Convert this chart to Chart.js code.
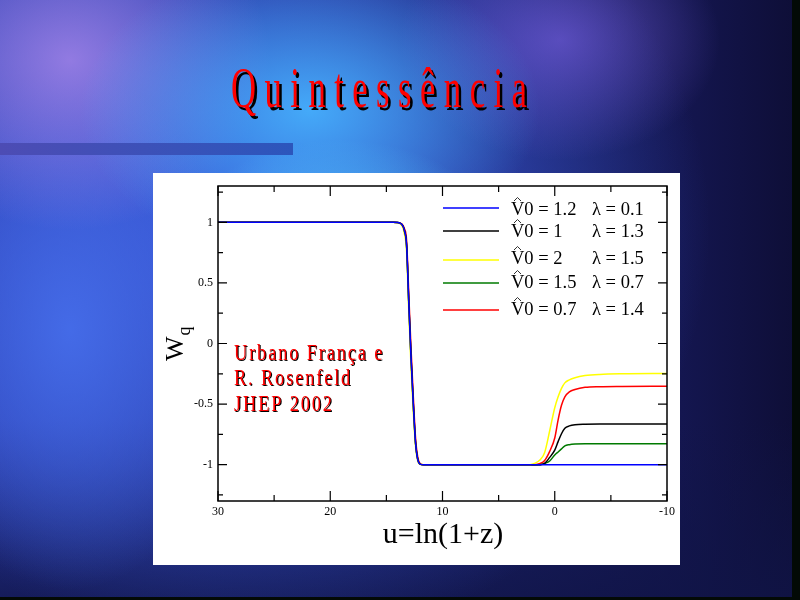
<!DOCTYPE html>
<html>
<head>
<meta charset="utf-8">
<script src="https://cdn.jsdelivr.net/npm/chart.js@4/dist/chart.umd.min.js"></script>
<style>
  html, body { margin: 0; padding: 0; }
  body {
    width: 800px; height: 600px; overflow: hidden;
    background:
      radial-gradient(ellipse 150px 90px at 340px 230px, rgba(80,200,255,0.85), rgba(80,200,255,0) 100%),
      radial-gradient(ellipse 230px 150px at 310px 110px, rgba(70,180,255,0.9), rgba(70,180,255,0) 100%),
      radial-gradient(ellipse 200px 170px at 70px 60px, rgba(170,135,235,0.8), rgba(170,135,235,0) 100%),
      radial-gradient(ellipse 160px 120px at 560px 40px, rgba(120,95,225,0.65), rgba(120,95,225,0) 100%),
      radial-gradient(ellipse 170px 260px at 70px 330px, rgba(70,110,235,0.9), rgba(70,110,235,0) 100%),
      radial-gradient(ellipse 460px 420px at 250px 230px, #3c5ee0, rgba(60,94,224,0) 100%),
      linear-gradient(to bottom, rgba(0,0,0,0) 70%, rgba(16,20,70,0.8) 100%),
      linear-gradient(to right, #2a3aa8 0%, #1c2470 60%, #141650 85%, #0e0e36 100%);
  }
  canvas { display: block; }
</style>
</head>
<body>
<canvas id="chart" width="800" height="600"></canvas>
<script>
// x: u = ln(1+z), shared by all curves
const uValues = [30, 20, 15, 14.4, 14.0, 13.8, 13.6, 13.4, 13.2, 13.0, 12.8, 12.6, 12.4, 12.2, 12.0, 11.7, 8, 4,
                 2.2, 1.8, 1.3, 0.9, 0.45, 0, -0.3, -0.6, -0.9, -1.3, -1.8, -2.7, -4, -6, -10];

// w_q for each curve
const wBlue   = [1, 1, 1, 1, 0.998, 0.993, 0.98, 0.935, 0.81, 0.33, -0.12, -0.5, -0.82, -0.96, -0.995, -1, -1, -1,
                 -1, -1, -1, -1, -1, -1, -1, -1, -1, -1, -1, -1, -1, -1, -1];
const wBlack  = [1, 1, 1, 1, 0.998, 0.993, 0.98, 0.935, 0.81, 0.33, -0.12, -0.5, -0.82, -0.96, -0.995, -1, -1, -1,
                 -1, -1, -1, -0.99, -0.94, -0.88, -0.81, -0.745, -0.70, -0.68, -0.67, -0.666, -0.665, -0.665, -0.665];
const wYellow = [1, 1, 1, 1, 0.997, 0.99, 0.97, 0.91, 0.76, 0.26, -0.2, -0.56, -0.85, -0.97, -0.997, -1, -1, -1,
                 -1, -0.99, -0.96, -0.90, -0.72, -0.53, -0.44, -0.37, -0.325, -0.30, -0.282, -0.265, -0.255, -0.25, -0.248];
const wGreen  = [1, 1, 1, 1, 0.998, 0.993, 0.98, 0.93, 0.8, 0.31, -0.14, -0.52, -0.83, -0.96, -0.995, -1, -1, -1,
                 -1, -1, -1, -0.99, -0.97, -0.92, -0.895, -0.87, -0.845, -0.835, -0.83, -0.828, -0.828, -0.828, -0.828];
const wRed    = [1, 1, 1, 1, 0.999, 0.995, 0.985, 0.95, 0.85, 0.4, -0.05, -0.44, -0.78, -0.94, -0.99, -1, -1, -1,
                 -1, -1, -0.99, -0.965, -0.89, -0.78, -0.63, -0.51, -0.44, -0.40, -0.38, -0.362, -0.356, -0.354, -0.353];

const seriesColors = ['#0000ff', '#000000', '#ffff00', '#007a00', '#ff0000'];
const legendV      = ['1.2', '1', '2', '1.5', '0.7'];
const legendLambda = ['0.1', '1.3', '1.5', '0.7', '1.4'];

const xMajor = [30, 20, 10, 0, -10];
const xMinor = [25, 15, 5, -5];
const yMajor = [-1, -0.5, 0, 0.5, 1];
const yMinor = [-1.25, -0.75, -0.25, 0.25, 0.75, 1.25];

const authors = ['Urbano França e', 'R. Rosenfeld', 'JHEP 2002'];

const SERIF = '"Liberation Serif", "Times New Roman", serif';
Chart.defaults.font.family = SERIF;

function pts(ws) {
  return uValues.map((u, i) => ({ x: u, y: ws[i] }));
}

const allSeries = [wBlue, wBlack, wYellow, wGreen, wRed];

// draws the slide: white panel, title and bar
const slidePlugin = {
  id: 'slide',
  beforeDraw(chart) {
    const ctx = chart.ctx;
    ctx.save();
    // bar
    const g = ctx.createLinearGradient(0, 0, 293, 0);
    g.addColorStop(0, '#4d4cb4');
    g.addColorStop(1, '#2c56bc');
    ctx.fillStyle = g;
    ctx.fillRect(0, 143, 293, 12);
    // panel
    ctx.fillStyle = '#ffffff';
    ctx.fillRect(153, 173, 527, 392);
    // dark edges
    ctx.fillStyle = '#030a06';
    ctx.fillRect(792, 0, 8, 600);
    ctx.fillRect(0, 597, 800, 3);
    // title
    const title = 'Quintessência';
    ctx.font = '56px ' + SERIF;
    ctx.textBaseline = 'alphabetic';
    const w0 = ctx.measureText(title).width;
    const sx = 0.62;
    const gap = (296 - w0 * sx) / (title.length - 1) / sx;
    ctx.translate(231, 107);
    ctx.scale(sx, 1);
    let x = 0;
    for (const ch of title) {
      ctx.fillStyle = '#000000';
      ctx.fillText(ch, x + 4, 3);
      ctx.fillStyle = '#ff0000';
      ctx.fillText(ch, x, 0);
      x += ctx.measureText(ch).width + gap;
    }
    ctx.restore();
  },
  afterDraw(chart) {
    const ctx = chart.ctx;
    const a = chart.chartArea;
    const xs = chart.scales.x, ys = chart.scales.y;
    ctx.save();
    // frame
    ctx.strokeStyle = '#000';
    ctx.lineWidth = 1.5;
    ctx.strokeRect(a.left, a.top, a.right - a.left, a.bottom - a.top);
    // inward ticks on all four sides
    ctx.lineWidth = 1.2;
    ctx.beginPath();
    const tx = (v, len) => {
      const p = xs.getPixelForValue(v);
      ctx.moveTo(p, a.bottom); ctx.lineTo(p, a.bottom - len);
      ctx.moveTo(p, a.top); ctx.lineTo(p, a.top + len);
    };
    const ty = (v, len) => {
      const p = ys.getPixelForValue(v);
      ctx.moveTo(a.left, p); ctx.lineTo(a.left + len, p);
      ctx.moveTo(a.right, p); ctx.lineTo(a.right - len, p);
    };
    xMajor.forEach(v => tx(v, 10));
    xMinor.forEach(v => tx(v, 6));
    yMajor.forEach(v => ty(v, 9));
    yMinor.forEach(v => ty(v, 5));
    ctx.stroke();

    // legend
    const rowLine = [208, 231, 260, 283, 310];
    const rowBase = [215, 237, 264, 288, 315];
    ctx.font = '18.5px ' + SERIF;
    ctx.textBaseline = 'alphabetic';
    ctx.textAlign = 'left';
    for (let i = 0; i < legendV.length; i++) {
      ctx.strokeStyle = seriesColors[i];
      ctx.lineWidth = 1.5;
      ctx.beginPath();
      ctx.moveTo(443, rowLine[i]); ctx.lineTo(499, rowLine[i]);
      ctx.stroke();
      ctx.fillStyle = '#000';
      ctx.fillText('V0 = ' + legendV[i], 511, rowBase[i]);
      ctx.fillText('λ = ' + legendLambda[i], 592, rowBase[i]);
      // circumflex over the V
      ctx.strokeStyle = '#333';
      ctx.lineWidth = 1;
      ctx.beginPath();
      ctx.moveTo(514, rowBase[i] - 14);
      ctx.lineTo(517.5, rowBase[i] - 17.5);
      ctx.lineTo(521, rowBase[i] - 14);
      ctx.stroke();
    }

    // author note
    ctx.font = '23px ' + SERIF;
    const authorBase = [360, 385, 411];
    authors.forEach((t, i) => {
      ctx.save();
      ctx.translate(234, authorBase[i]);
      ctx.scale(0.8, 1);
      let x = 0;
      for (const ch of t) {
        ctx.fillStyle = '#000';
        ctx.fillText(ch, x + 1.2, 1);
        ctx.fillStyle = '#ff0000';
        ctx.fillText(ch, x, 0);
        x += ctx.measureText(ch).width + 2.3;
      }
      ctx.restore();
    });

    // y title  W_q, rotated
    ctx.save();
    ctx.fillStyle = '#000';
    ctx.translate(183, 361);
    ctx.rotate(-Math.PI / 2);
    ctx.font = '26px ' + SERIF;
    ctx.fillText('W', 0, 0);
    const ww = ctx.measureText('W').width;
    ctx.font = '18px ' + SERIF;
    ctx.fillText('q', ww + 1, 7);
    ctx.restore();

    // x title
    ctx.fillStyle = '#000';
    ctx.font = '30px ' + SERIF;
    ctx.textAlign = 'center';
    ctx.fillText('u=ln(1+z)', 443, 543);
    ctx.restore();
  }
};

new Chart(document.getElementById('chart'), {
  type: 'line',
  data: {
    datasets: allSeries.map((ws, i) => ({
      data: pts(ws),
      borderColor: seriesColors[i],
      borderWidth: 1.5,
      pointRadius: 0,
      fill: false,
      cubicInterpolationMode: 'monotone'
    }))
  },
  options: {
    responsive: false,
    animation: false,
    devicePixelRatio: 1,
    layout: { padding: { left: 166, top: 186, right: 133, bottom: 0 } },
    plugins: { legend: { display: false }, tooltip: { enabled: false } },
    scales: {
      x: {
        type: 'linear',
        min: -10, max: 30,
        reverse: true,
        grid: { display: false, drawTicks: false },
        border: { display: false },
        afterBuildTicks: s => { s.ticks = xMajor.map(v => ({ value: v })); },
        afterFit: s => { s.height = 99; },
        ticks: { color: '#000', font: { size: 12, family: SERIF }, padding: 4, maxRotation: 0, autoSkip: false,
                 callback: v => String(v) }
      },
      y: {
        min: -1.3, max: 1.3,
        grid: { display: false, drawTicks: false },
        border: { display: false },
        afterBuildTicks: s => { s.ticks = yMajor.map(v => ({ value: v })); },
        afterFit: s => { s.width = 52; },
        ticks: { color: '#000', font: { size: 12, family: SERIF }, padding: 5,
                 callback: v => String(v) }
      }
    }
  },
  plugins: [slidePlugin]
});
</script>
</body>
</html>
